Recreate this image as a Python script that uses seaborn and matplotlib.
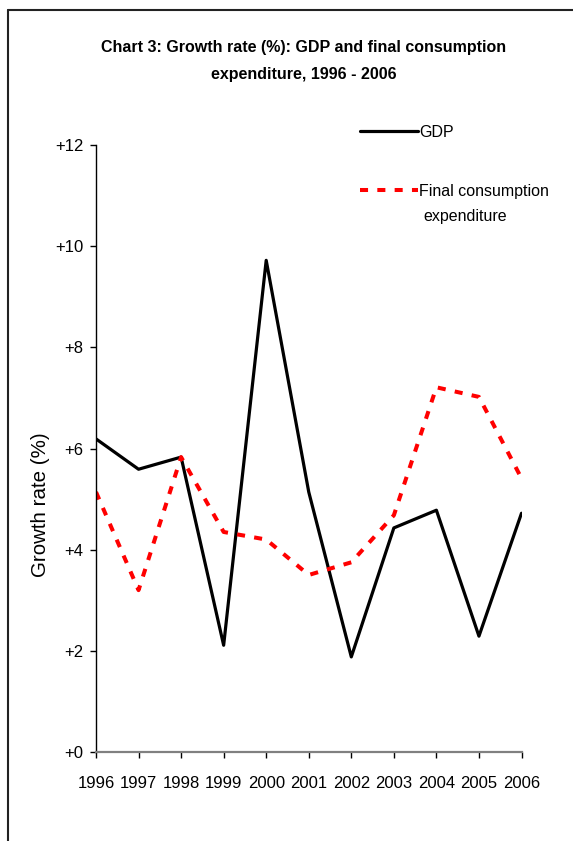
import matplotlib
matplotlib.use("Agg")
import matplotlib.pyplot as plt
from matplotlib.lines import Line2D
import seaborn as sns
import pandas as pd

years = [1996, 1997, 1998, 1999, 2000, 2001, 2002, 2003, 2004, 2005, 2006]
gdp = [6.19, 5.59, 5.83, 2.11, 9.72, 5.14, 1.88, 4.43, 4.78, 2.29, 4.72]
fce = [5.14, 3.20, 5.83, 4.35, 4.20, 3.50, 3.75, 4.68, 7.21, 7.02, 5.41]
y_ticks = [0, 2, 4, 6, 8, 10, 12]
y_tick_labels = ["+0", "+2", "+4", "+6", "+8", "+10", "+12"]

title = "Chart 3: Growth rate (%): GDP and final consumption\nexpenditure, 1996 - 2006"
y_label = "Growth rate (%)"
gdp_label = "GDP"
fce_label = "Final consumption"
fce_label_2 = "expenditure"

sns.set_style("white")
plt.rcParams["font.family"] = ["Liberation Sans", "DejaVu Sans"]
plt.rcParams["text.color"] = "black"
plt.rcParams["xtick.color"] = "black"
plt.rcParams["ytick.color"] = "black"
plt.rcParams["xtick.labelcolor"] = "black"
plt.rcParams["ytick.labelcolor"] = "black"

df = pd.DataFrame({"year": years, "gdp": gdp, "fce": fce})

fig = plt.figure(figsize=(5.73, 8.41), dpi=100)
ax = fig.add_axes([96 / 573, 1 - 752 / 841, (521.5 - 96) / 573, (752 - 145) / 841])

sns.lineplot(data=df, x="year", y="gdp", ax=ax, color="black", lw=2.3,
             label=gdp_label)
sns.lineplot(data=df, x="year", y="fce", ax=ax, color="#ff0000", lw=2.9,
             label=fce_label)
ax.lines[1].set_dashes((2.0, 2.3))
ax.lines[1].set_dash_capstyle("butt")

ax.set_xlim(years[0], years[-1])
ax.set_ylim(0, 12)
ax.set_xticks(years)
ax.set_xticklabels([str(y) for y in years], fontsize=12)
ax.set_yticks(y_ticks)
ax.set_yticklabels(y_tick_labels, fontsize=12)
ax.set_xlabel("")
ax.set_ylabel("")

for side in ("top", "right"):
    ax.spines[side].set_visible(False)
ax.spines["left"].set_color("black")
ax.spines["left"].set_linewidth(1.0)
ax.spines["bottom"].set_color("#808080")
ax.spines["bottom"].set_linewidth(1.6)
ax.tick_params(axis="x", direction="out", length=4, width=1, color="black",
               pad=13, bottom=True)
ax.tick_params(axis="y", direction="out", length=4, width=1, color="black",
               pad=5, left=True)

handles, labels = ax.get_legend_handles_labels()
leg = ax.legend(handles, labels, loc="upper left",
                bbox_to_anchor=(360 / 573, 1 - 125 / 841),
                bbox_transform=fig.transFigure, frameon=False,
                fontsize=11.5, handlelength=3.6, handletextpad=0.1,
                labelspacing=2.75, borderpad=0, borderaxespad=0)
leg.get_lines()[1].set_dashes((2.0, 2.3))
fig.text(423 / 573, 1 - 217 / 841, fce_label_2, fontsize=11.5,
         ha="left", va="center")

fig.text(304 / 573, 1 - 61 / 841, title, fontsize=11.5, fontweight="bold",
         ha="center", va="center", linespacing=2.0)
fig.text(40 / 573, 1 - 505 / 841, y_label, fontsize=14.8, rotation=90,
         ha="center", va="center")

# outer chart frame
fig.add_artist(Line2D([8 / 573, 8 / 573], [0, 1 - 10 / 841],
                      transform=fig.transFigure, color="#222222", lw=1.5))
fig.add_artist(Line2D([8 / 573, 1], [1 - 10 / 841, 1 - 10 / 841],
                      transform=fig.transFigure, color="#222222", lw=1.5))

fig.savefig("out.png", dpi=100)
